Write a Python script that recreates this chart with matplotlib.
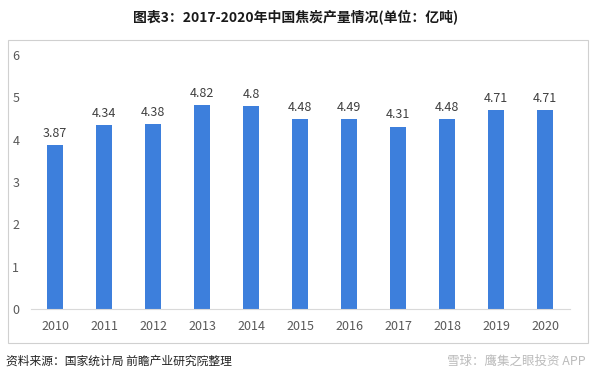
import matplotlib
matplotlib.use("Agg")
import matplotlib.pyplot as plt
from matplotlib.patches import Rectangle

plt.rcParams['font.family'] = ['Noto Sans CJK SC', 'DejaVu Sans']

years = ['2010', '2011', '2012', '2013', '2014', '2015', '2016', '2017', '2018', '2019', '2020']
values = [3.87, 4.34, 4.38, 4.82, 4.8, 4.48, 4.49, 4.31, 4.48, 4.71, 4.71]
labels = ['3.87', '4.34', '4.38', '4.82', '4.8', '4.48', '4.49', '4.31', '4.48', '4.71', '4.71']
yticks = [0, 1, 2, 3, 4, 5, 6]

fig = plt.figure(figsize=(5.92, 3.81), dpi=100)
fig.patch.set_facecolor('white')

# outer frame
fig.patches.append(Rectangle((8/592, 1-343/381), 580/592, 303/381, transform=fig.transFigure,
                             fill=False, edgecolor='#d0d0d0', linewidth=0.8))

ax = fig.add_axes([30.5/592, 1-309/381, 539/592, 254/381])
x = range(len(years))
ax.bar(x, values, width=0.33, color='#3D7FDC')
for i, (v, t) in enumerate(zip(values, labels)):
    ax.text(i, v + 0.12, t, ha='center', va='bottom', fontsize=9, color='#404040')

ax.set_xlim(-0.5, len(years) - 0.5)
ax.set_ylim(0, 6)
ax.set_yticks(yticks)
ax.set_yticklabels([str(t) for t in yticks])
ax.set_xticks(list(x))
ax.set_xticklabels(years)
ax.tick_params(axis='both', length=0, labelsize=9, colors='#595959')
ax.tick_params(axis='x', pad=8)
ax.tick_params(axis='y', pad=8)
for s in ['top', 'right', 'left']:
    ax.spines[s].set_visible(False)
ax.spines['bottom'].set_color('#d9d9d9')
ax.spines['bottom'].set_linewidth(0.8)

fig.text(0.5, 1-17/381, '图表3：2017-2020年中国焦炭产量情况(单位：亿吨)', ha='center', va='center',
         fontsize=10, fontweight='bold', color='#1a1a1a')
fig.text(6/592, 1-361/381, '资料来源：国家统计局 前瞻产业研究院整理', ha='left', va='center',
         fontsize=8.5, color='#222222')
fig.text(586/592, 1-361/381, '雪球：鹰集之眼投资 APP', ha='right', va='center',
         fontsize=9, color='#bbbbbb')

fig.savefig('out.png', dpi=100)
